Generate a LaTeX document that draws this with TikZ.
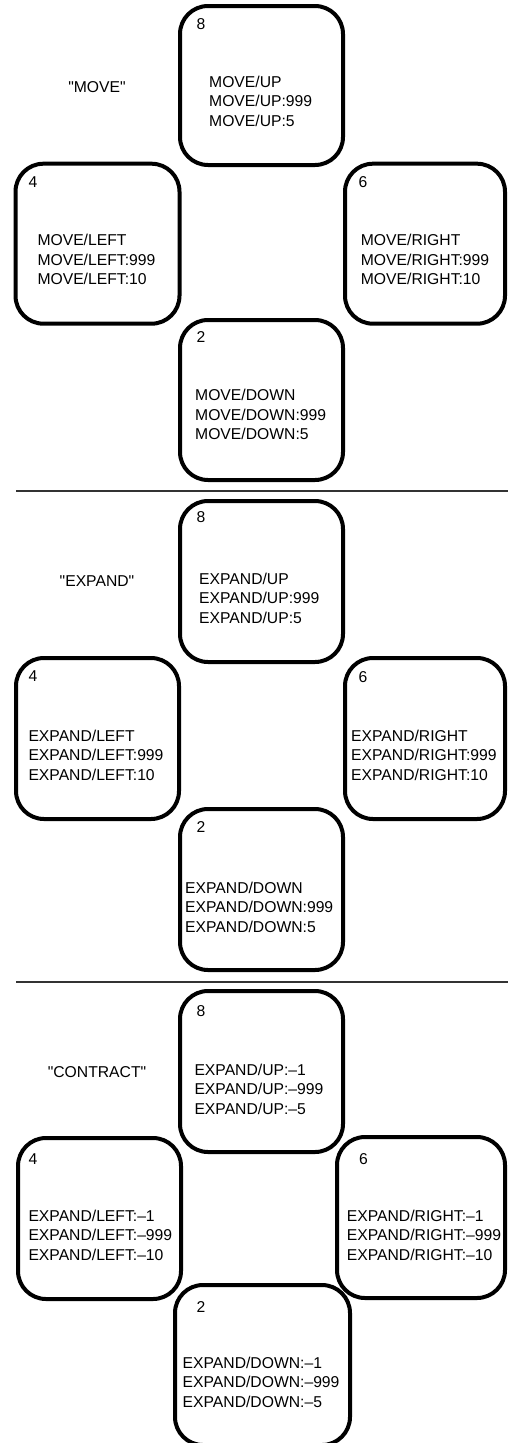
\documentclass[tikz,border=0pt]{standalone}
\usepackage{fontspec}
\setmainfont{Liberation Sans}[Ligatures=TeXOff]
\begin{document}
\begin{tikzpicture}[x=1pt,y=-1pt,
  keybox/.style={draw=black,line width=4pt,rounded corners=28pt,fill=white,inner sep=0pt},
  txt/.style={anchor=north west,inner sep=0pt,align=left,font=\fontsize{15.7}{19.5}\selectfont},
  ttl/.style={anchor=base,inner sep=0pt,font=\fontsize{15.7}{19.5}\selectfont},
  sep/.style={draw=black!80,line width=1.8pt}]
\useasboundingbox (0,0) rectangle (508,1443);
\clip (0,0) rectangle (508,1443);
\def\cap{11.4}
% ---------- MOVE ----------
\node[ttl] (t1) at (97,92.6) {"MOVE"};
\node[keybox,minimum width=163pt,minimum height=159pt] (m8) at (261.5,85.5) {};
\node[keybox,minimum width=164pt,minimum height=160pt] (m4) at (97.5,243.7) {};
\node[keybox,minimum width=160pt,minimum height=160pt] (m6) at (425,243.7) {};
\node[keybox,minimum width=163pt,minimum height=160pt] (m2) at (261.5,400) {};
\node[txt] (m8n) at (196.5,29.6-\cap) {8};
\node[txt] (m8t) at (209,87.3-\cap) {MOVE/UP\\MOVE/UP:999\\MOVE/UP:5};
\node[txt] (m4n) at (28.3,188-\cap) {4};
\node[txt] (m4t) at (37.3,245.6-\cap) {MOVE/LEFT\\MOVE/LEFT:999\\MOVE/LEFT:10};
\node[txt] (m6n) at (358.5,188-\cap) {6};
\node[txt] (m6t) at (360.7,245.6-\cap) {MOVE/RIGHT\\MOVE/RIGHT:999\\MOVE/RIGHT:10};
\node[txt] (m2n) at (196.5,343-\cap) {2};
\node[txt] (m2t) at (195,400.6-\cap) {MOVE/DOWN\\MOVE/DOWN:999\\MOVE/DOWN:5};
\coordinate (s1a) at (16,491);
\coordinate (s1b) at (508,491);
\draw[sep] (s1a) -- (s1b);
% ---------- EXPAND ----------
\node[ttl] (t2) at (97,586.6) {"EXPAND"};
\node[keybox,minimum width=163pt,minimum height=161pt] (e8) at (261.5,581.5) {};
\node[keybox,minimum width=163pt,minimum height=161pt] (e4) at (97.5,738.5) {};
\node[keybox,minimum width=160pt,minimum height=161pt] (e6) at (425,738.5) {};
\node[keybox,minimum width=163pt,minimum height=161pt] (e2) at (261.5,889.5) {};
\node[txt] (e8n) at (196.5,522.3-\cap) {8};
\node[txt] (e8t) at (199,584-\cap) {EXPAND/UP\\EXPAND/UP:999\\EXPAND/UP:5};
\node[txt] (e4n) at (28.3,682.3-\cap) {4};
\node[txt] (e4t) at (28.3,741.3-\cap) {EXPAND/LEFT\\EXPAND/LEFT:999\\EXPAND/LEFT:10};
\node[txt] (e6n) at (358.5,682.3-\cap) {6};
\node[txt] (e6t) at (351,741.3-\cap) {EXPAND/RIGHT\\EXPAND/RIGHT:999\\EXPAND/RIGHT:10};
\node[txt] (e2n) at (196.5,832.3-\cap) {2};
\node[txt] (e2t) at (185,893-\cap) {EXPAND/DOWN\\EXPAND/DOWN:999\\EXPAND/DOWN:5};
\coordinate (s2a) at (16,982);
\coordinate (s2b) at (508,982);
\draw[sep] (s2a) -- (s2b);
% ---------- CONTRACT ----------
\node[ttl] (t3) at (97,1077.9) {"CONTRACT"};
\node[keybox,minimum width=163pt,minimum height=161pt] (c8) at (261.5,1071.5) {};
\node[keybox,minimum width=163pt,minimum height=161pt] (c4) at (99.5,1218.5) {};
\node[keybox,minimum width=168pt,minimum height=161pt] (c6) at (421,1217.5) {};
\node[keybox,minimum width=175pt,minimum height=160pt] (c2) at (262.5,1365) {};
\node[txt] (c8n) at (196.5,1016.3-\cap) {8};
\node[txt] (c8t) at (194.3,1075-\cap) {EXPAND/UP:–1\\EXPAND/UP:–999\\EXPAND/UP:–5};
\node[txt] (c4n) at (28.3,1165-\cap) {4};
\node[txt] (c4t) at (28.3,1221.3-\cap) {EXPAND/LEFT:–1\\EXPAND/LEFT:–999\\EXPAND/LEFT:–10};
\node[txt] (c6n) at (359,1165-\cap) {6};
\node[txt] (c6t) at (346.7,1221.3-\cap) {EXPAND/RIGHT:–1\\EXPAND/RIGHT:–999\\EXPAND/RIGHT:–10};
\node[txt] (c2n) at (196.5,1312.3-\cap) {2};
\node[txt] (c2t) at (182.5,1368-\cap) {EXPAND/DOWN:–1\\EXPAND/DOWN:–999\\EXPAND/DOWN:–5};
\end{tikzpicture}
\end{document}
